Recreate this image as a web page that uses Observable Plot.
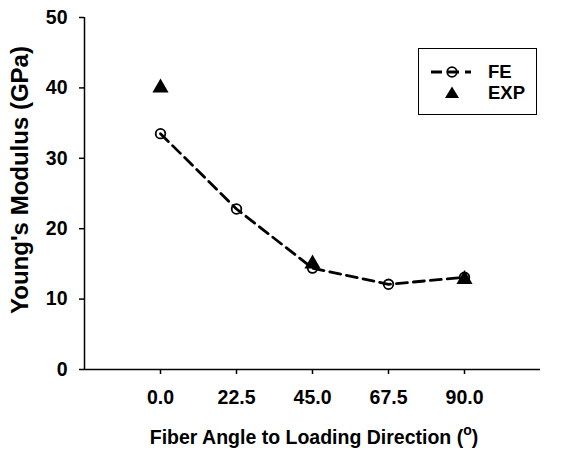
<!DOCTYPE html>
<html>
<head>
<meta charset="utf-8">
<script src="https://cdn.jsdelivr.net/npm/d3@7"></script>
<script src="https://cdn.jsdelivr.net/npm/@observablehq/plot@0.6"></script>
<style>
  html, body { margin: 0; padding: 0; background: #fff; }
  #wrap { position: relative; width: 572px; height: 455px; font-family: "Liberation Sans", Arial, sans-serif; font-weight: bold; }
  #legend { position: absolute; left: 418px; top: 48px; width: 119px; height: 67px; border: 1.5px solid #000; background: #fff; box-sizing: border-box; }
  #legend .row { position: absolute; left: 0; height: 22px; font-size: 18.5px; }
  #legend .row span { position: absolute; left: 69px; line-height: 22px; }
</style>
</head>
<body>
<div id="wrap"></div>
<script>
const angles = [0, 22.5, 45, 67.5, 90];
const feModulus = [33.5, 22.8, 14.4, 12.1, 13.1];
const expAngles = [0, 45, 90];
const expModulus = [40, 15.0, 12.8];
const xTicks = [0, 22.5, 45, 67.5, 90];
const yTicks = [0, 10, 20, 30, 40, 50];
const xLabel = "Fiber Angle to Loading Direction (";
const yLabel = "Young's Modulus (GPa)";
const seriesNames = ["FE", "EXP"];

const fe = angles.map((a, i) => ({angle: a, modulus: feModulus[i]}));
const exp = expAngles.map((a, i) => ({angle: a, modulus: expModulus[i]}));

const xDomain = [-22.5, 112.5];

const chart = Plot.plot({
  width: 572,
  height: 455,
  marginLeft: 84,
  marginRight: 32,
  marginTop: 17,
  marginBottom: 86,
  style: {fontFamily: "'Liberation Sans', Arial, sans-serif", fontWeight: "bold", fontSize: "19.5px", color: "#000", background: "#fff"},
  x: {domain: xDomain},
  y: {domain: [0, 50]},
  marks: [
    Plot.axisX({ticks: xTicks, tickFormat: d => d.toFixed(1), tickSize: 5, tickPadding: 16, label: null, strokeWidth: 1.5}),
    Plot.axisY({ticks: yTicks, tickSize: 5, tickPadding: 12, label: null, strokeWidth: 1.5}),
    Plot.ruleX([xDomain[0]], {stroke: "#000", strokeWidth: 1.5}),
    Plot.ruleY([0], {stroke: "#000", strokeWidth: 1.5}),
    Plot.line(fe, {x: "angle", y: "modulus", stroke: "#000", strokeWidth: 2.8, strokeDasharray: "11,6"}),
    Plot.dot(fe, {x: "angle", y: "modulus", r: 4.8, stroke: "#000", strokeWidth: 1.8, fill: "none"}),
    Plot.dot(exp, {x: "angle", y: "modulus", symbol: "triangle", r: 6, fill: "#000", stroke: "none"})
  ]
});

const svg = d3.select(chart);
// x-axis title with superscript o
const xt = svg.append("text")
  .attr("x", 314).attr("y", 444)
  .attr("text-anchor", "middle")
  .attr("font-size", 19.5).attr("font-weight", "bold").attr("fill", "#000");
xt.append("tspan").text(xLabel);
xt.append("tspan").attr("font-size", 14).attr("dy", -9).text("o");
xt.append("tspan").attr("dy", 9).text(")");
// y-axis title
svg.append("text")
  .attr("transform", "translate(28,180) rotate(-90)")
  .attr("text-anchor", "middle")
  .attr("font-size", 24).attr("font-weight", "bold").attr("fill", "#000")
  .text(yLabel);

const wrap = document.getElementById("wrap");
wrap.appendChild(chart);

// legend
const legend = document.createElement("div");
legend.id = "legend";
legend.innerHTML = `
  <div class="row" style="top:12px;width:119px">
    <svg width="60" height="22" style="position:absolute;left:8px;top:0">
      <line x1="4" y1="11" x2="44" y2="11" stroke="#000" stroke-width="2.8" stroke-dasharray="11,6"/>
      <circle cx="25" cy="11" r="4.8" fill="none" stroke="#000" stroke-width="1.8"/>
    </svg>
    <span>${seriesNames[0]}</span>
  </div>
  <div class="row" style="top:33px;width:119px">
    <svg width="60" height="22" style="position:absolute;left:8px;top:0">
      <path d="M25,4.5 L32,16 L18,16 Z" fill="#000"/>
    </svg>
    <span>${seriesNames[1]}</span>
  </div>`;
wrap.appendChild(legend);
</script>
</body>
</html>
